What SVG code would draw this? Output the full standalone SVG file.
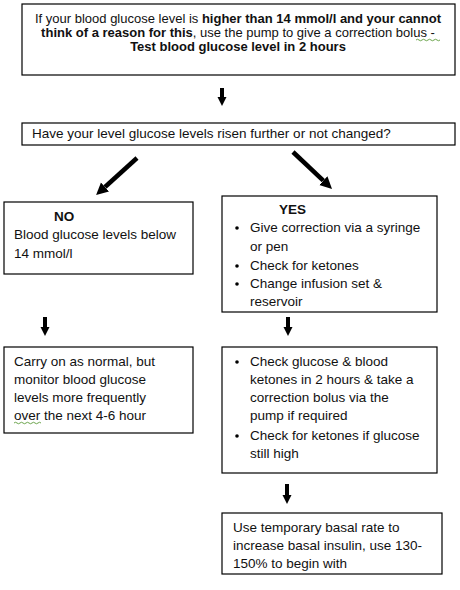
<svg xmlns="http://www.w3.org/2000/svg" width="460" height="590" viewBox="0 0 460 590">
<style>
.box{fill:#fff;stroke:#000;stroke-width:1.2}
text{font-family:"Liberation Sans",Arial,sans-serif;font-size:13.5px;fill:#111}
.t{font-size:13px}
.b{font-weight:bold}
.arr{stroke:#000;fill:none}
.sq{fill:none;stroke:#5b9b3a;stroke-width:0.9}
</style>
<defs>
<marker id="hs" viewBox="0 0 10 10" refX="0" refY="5" markerUnits="userSpaceOnUse" markerWidth="9" markerHeight="12" orient="auto"><path d="M0,0 L10,5 L0,10 z" fill="#000"/></marker>
<marker id="hl" viewBox="0 0 10 10" refX="0" refY="5" markerUnits="userSpaceOnUse" markerWidth="12" markerHeight="15" orient="auto"><path d="M0,0 L10,5 L0,10 z" fill="#000"/></marker>
</defs>
<rect width="460" height="590" fill="#fff"/>

<g id="connectors">
<line class="arr" x1="222" y1="88" x2="222" y2="97" stroke-width="4" marker-end="url(#hs)"/>
<line class="arr" x1="137" y1="158" x2="105" y2="187" stroke-width="4.5" marker-end="url(#hl)"/>
<line class="arr" x1="293" y1="152" x2="323.3" y2="180.7" stroke-width="4.5" marker-end="url(#hl)"/>
<line class="arr" x1="45" y1="317" x2="45" y2="327" stroke-width="4" marker-end="url(#hs)"/>
<line class="arr" x1="288" y1="317" x2="288" y2="327" stroke-width="4" marker-end="url(#hs)"/>
<line class="arr" x1="287" y1="484" x2="287" y2="495" stroke-width="4" marker-end="url(#hs)"/>
</g>

<g id="start">
<rect class="box" x="22" y="4" width="433" height="71"/>
<text class="t" x="238" y="23" text-anchor="middle">If your blood glucose level is <tspan class="b">higher than 14 mmol/l and your cannot</tspan></text>
<text class="t" x="238" y="37" text-anchor="middle"><tspan class="b">think of a reason for this</tspan>, use the pump to give a correction bolus  -</text>
<text class="t b" x="238" y="51" text-anchor="middle">Test blood glucose level in 2 hours</text>
<path class="sq" d="M416,40 q1.5,-1.5 3,0 t3,0 t3,0 t3,0 t3,0 t3,0 t3,0 t3,0"/>
</g>

<g id="question">
<rect class="box" x="22" y="123" width="433" height="22"/>
<text x="32" y="138">Have your level glucose levels risen further or not changed?</text>
</g>

<g id="no">
<rect class="box" x="4" y="202" width="189" height="72"/>
<text x="54" y="221" class="b">NO</text>
<text x="14" y="239">Blood glucose levels below</text>
<text x="14" y="258">14 mmol/l</text>
</g>

<g id="yes">
<rect class="box" x="222" y="196" width="215" height="116"/>
<text x="279" y="214" class="b">YES</text>
<circle cx="237" cy="228" r="1.8"/>
<text x="250" y="232">Give correction via a syringe</text>
<text x="250" y="251">or pen</text>
<circle cx="237" cy="266" r="1.8"/>
<text x="250" y="270">Check for ketones</text>
<circle cx="237" cy="284" r="1.8"/>
<text x="250" y="288">Change infusion set &amp;</text>
<text x="250" y="306">reservoir</text>
</g>

<g id="carry">
<rect class="box" x="4" y="347" width="189" height="86"/>
<text x="14" y="366">Carry on as normal, but</text>
<text x="14" y="384">monitor blood glucose</text>
<text x="14" y="402">levels more frequently</text>
<text x="14" y="420">over the next 4-6 hour</text>
<path class="sq" d="M14,423 q1.5,-1.5 3,0 t3,0 t3,0 t3,0 t3,0 t3,0 t3,0 t3,0 t3,0"/>
</g>

<g id="check">
<rect class="box" x="222" y="347" width="215" height="126"/>
<circle cx="237" cy="362" r="1.8"/>
<text x="250" y="366">Check glucose &amp; blood</text>
<text x="250" y="384">ketones in 2 hours &amp; take a</text>
<text x="250" y="402">correction bolus via the</text>
<text x="250" y="420">pump if required</text>
<circle cx="237" cy="436" r="1.8"/>
<text x="250" y="440">Check for ketones if glucose</text>
<text x="250" y="458">still high</text>
</g>

<g id="basal">
<rect class="box" x="222" y="513" width="220" height="61"/>
<text x="233" y="532">Use temporary basal rate to</text>
<text x="233" y="550">increase basal insulin, use 130-</text>
<text x="233" y="568">150% to begin with</text>
</g>
</svg>
